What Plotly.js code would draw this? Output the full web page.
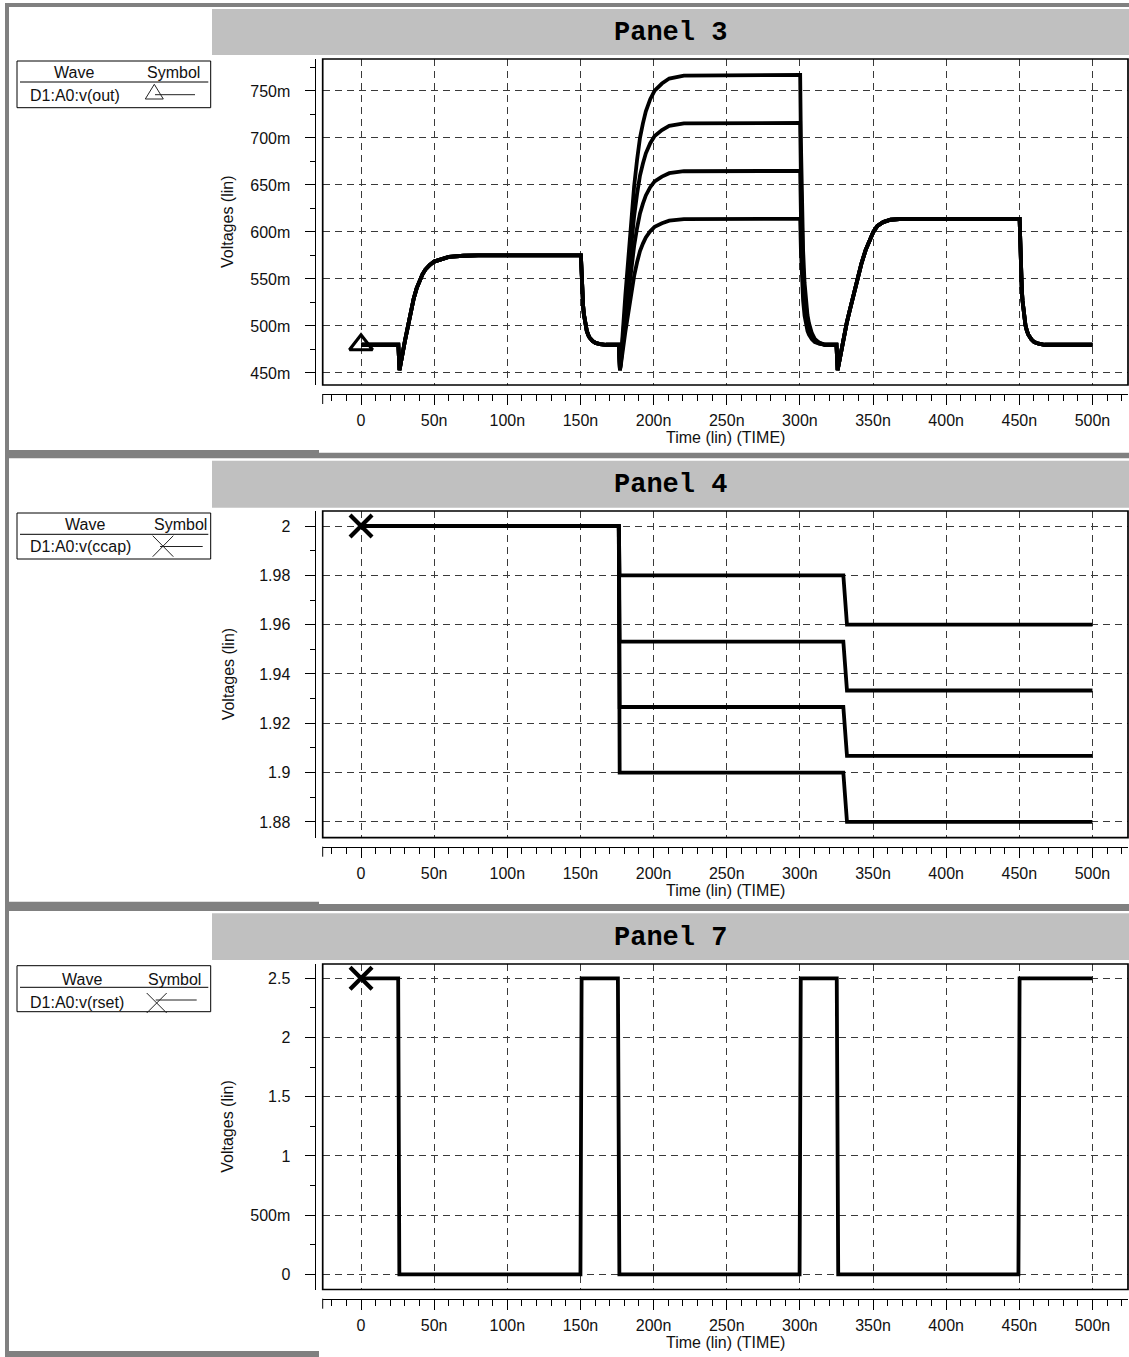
<!DOCTYPE html>
<html>
<head>
<meta charset="utf-8">
<script src="https://cdn.plot.ly/plotly-3.0.1.min.js"></script>
<style>html,body{margin:0;padding:0;background:#fff;}</style>
</head>
<body>
<div id="chart" style="width:1129px;height:1357px;"></div>
<script>
// ---------- time axis (ns) ----------
const timeTicks = [0, 50, 100, 150, 200, 250, 300, 350, 400, 450, 500];
const timeTickText = ['0', '50n', '100n', '150n', '200n', '250n', '300n', '350n', '400n', '450n', '500n'];

// ---------- Panel 3 : D1:A0:v(out), four sweep runs (mV) ----------
const outTime = [0, 25.5, 26.3, 27, 28, 30, 32, 34, 36, 38, 40, 42, 44, 47, 50, 55, 60, 70, 80,
  150.3, 150.8, 151.3, 151.8, 152.3, 153.3, 154.3, 155.3, 156.3, 158.3, 160.3, 163.3, 167.3,
  176.2, 177.0,
  177.7, 178.7, 180.7, 182.7, 184.7, 186.7, 188.7, 190.7, 192.7, 194.7, 197.7, 200.7, 205.7, 210.7, 220.7,
  300.2, 300.7, 301.2, 301.7, 302.2, 303.2, 304.2, 305.2, 306.2, 308.2, 310.2, 313.2, 317.2,
  325.0, 325.8,
  326.5, 328, 330, 332, 334, 336, 339, 342, 345, 348, 350.2, 353, 357, 362, 370,
  450.2, 450.7, 451.2, 451.7, 452.2, 453.2, 454.2, 455.2, 456.2, 458.2, 460.2, 463.2, 467.2,
  500];
// shared by all runs: first pulse and the dip before the second pulse
const outHead = [480, 480, 453, 458, 468, 484, 499, 515, 529, 540, 549, 555, 560, 565, 568.5, 571.5, 573.5, 574.7, 575,
  575, 551, 534, 522, 513, 502, 495, 490.5, 487.5, 484, 482, 480.8, 480,
  480, 453];
// second pulse rise, per run
const outRiseA = [459.6, 472.8, 493.9, 513.7, 534.8, 553.3, 567.8, 579.7, 587.6, 594.2, 600.8, 605.5, 609.3, 612.1, 613.7];
const outRiseB = [461.7, 479.1, 506.8, 532.9, 560.7, 585.1, 604.2, 619.8, 630.2, 638.9, 647.6, 653.8, 658.9, 662.5, 664.6];
const outRiseC = [463.8, 485.3, 519.8, 552.2, 586.6, 616.8, 640.5, 660.0, 672.9, 683.7, 694.4, 702.1, 708.4, 712.8, 715.5];
const outRiseD = [465.9, 491.6, 532.8, 571.4, 612.5, 648.6, 676.9, 700.1, 715.5, 728.4, 741.3, 750.4, 757.9, 763.2, 766.4];
// second pulse fall, per run
const outFallA = [614, 580.5, 556.4, 539.0, 526.9, 510.8, 500.8, 494.7, 490.7, 485.8, 482.9, 481.1, 480];
const outFallB = [665, 618.8, 585.5, 561.4, 544.8, 522.6, 508.7, 500.4, 494.8, 488.0, 484.1, 481.5, 480];
const outFallC = [716, 657.0, 614.5, 583.8, 562.6, 534.3, 516.6, 506.0, 498.9, 490.1, 485.2, 481.9, 480];
const outFallD = [767, 695.3, 643.6, 606.3, 580.5, 546.0, 524.5, 511.6, 503.0, 492.3, 486.3, 482.3, 480];
// shared by all runs: third pulse to the end
const outTail = [480, 453,
  459, 471, 487, 503, 516, 528, 549, 566, 581, 593, 600, 606.5, 610.5, 613, 614,
  614, 580.5, 556.4, 539, 526.9, 510.8, 500.8, 494.7, 490.7, 485.8, 482.9, 481.1, 480,
  480];
const outTicks = [450, 500, 550, 600, 650, 700, 750];
const outTickText = ['450m', '500m', '550m', '600m', '650m', '700m', '750m'];

// ---------- Panel 4 : D1:A0:v(ccap), four sweep runs (V) ----------
const ccapTime = [0, 176.2, 176.8, 329.7, 332.2, 500];
const ccapRunA = [2, 2, 1.98, 1.98, 1.96, 1.96];
const ccapRunB = [2, 2, 1.9531, 1.9531, 1.9333, 1.9333];
const ccapRunC = [2, 2, 1.9266, 1.9266, 1.9068, 1.9068];
const ccapRunD = [2, 2, 1.90, 1.90, 1.88, 1.88];
const ccapTicks = [1.88, 1.9, 1.92, 1.94, 1.96, 1.98, 2];
const ccapTickText = ['1.88', '1.9', '1.92', '1.94', '1.96', '1.98', '2'];

// ---------- Panel 7 : D1:A0:v(rset) (V) ----------
const rsetTime = [0, 25.4, 26.2, 150.0, 150.8, 175.6, 176.6, 299.8, 300.6, 325.2, 326.2, 449.4, 450.2, 500];
const rsetVolts = [2.5, 2.5, 0, 0, 2.5, 2.5, 0, 0, 2.5, 2.5, 0, 0, 2.5, 2.5];
const rsetTicks = [0, 0.5, 1, 1.5, 2, 2.5];
const rsetTickText = ['0', '500m', '1', '1.5', '2', '2.5'];

// ---------- page geometry helpers (pixels -> paper) ----------
const W = 1129, H = 1357;
const PX = v => v / W;
const PY = v => 1 - v / H;
const FONT = 'Liberation Sans, Arial, Helvetica, sans-serif';
const MONO = 'Liberation Mono, Courier New, monospace';

const plotLeft = 322.7, plotRight = 1128, yAxisX = 315;
const timeRange = [-26.2, 524.3];

const panels = [
  { name: 'Panel 3', top: 59, bottom: 385, axisY: 394, barTop: 9, barBottom: 55,
    range: [437.2, 784.0], ticks: outTicks, text: outTickText, minor: 25,
    legTop: 61, legBottom: 107.7, legLine: 82, waveX: 74, symX: 173, headY: 73, nameY: 95.5,
    wave: 'D1:A0:v(out)' },
  { name: 'Panel 4', top: 511, bottom: 837.7, axisY: 846.7, barTop: 460.7, barBottom: 507.7,
    range: [1.8736, 2.0061], ticks: ccapTicks, text: ccapTickText, minor: 0.01,
    legTop: 513, legBottom: 559, legLine: 534.3, waveX: 85, symX: 180.5, headY: 524.5, nameY: 546,
    wave: 'D1:A0:v(ccap)' },
  { name: 'Panel 7', top: 964, bottom: 1289.5, axisY: 1298.7, barTop: 913.3, barBottom: 960,
    range: [-0.128, 2.621], ticks: rsetTicks, text: rsetTickText, minor: 0.25,
    legTop: 965.7, legBottom: 1011.7, legLine: 987.3, waveX: 81.5, symX: 174.5, headY: 979.5, nameY: 1002.5,
    wave: 'D1:A0:v(rset)' }
];

// ---------- traces ----------
const lineStyle = { color: '#000', width: 3.8 };
const traces = [];
const outRuns = [
  outHead.concat(outRiseA, outFallA, outTail),
  outHead.concat(outRiseB, outFallB, outTail),
  outHead.concat(outRiseC, outFallC, outTail),
  outHead.concat(outRiseD, outFallD, outTail)
];
outRuns.forEach(r => traces.push({ x: outTime, y: r, xaxis: 'x', yaxis: 'y', mode: 'lines', line: lineStyle, hoverinfo: 'skip' }));
[ccapRunA, ccapRunB, ccapRunC, ccapRunD].forEach(r =>
  traces.push({ x: ccapTime, y: r, xaxis: 'x2', yaxis: 'y2', mode: 'lines', line: lineStyle, hoverinfo: 'skip' }));
traces.push({ x: rsetTime, y: rsetVolts, xaxis: 'x3', yaxis: 'y3', mode: 'lines', line: lineStyle, hoverinfo: 'skip' });

// wave symbols at the first sample of each wave
traces.push({ x: [outTime[0]], y: [outRuns[0][0]], xaxis: 'x', yaxis: 'y', mode: 'markers',
  marker: { symbol: 'triangle-up-open', size: 20, color: '#000', line: { color: '#000', width: 3.2 } }, hoverinfo: 'skip' });
traces.push({ x: [ccapTime[0]], y: [ccapRunA[0]], xaxis: 'x2', yaxis: 'y2', mode: 'markers',
  marker: { symbol: 'x-thin-open', size: 22, color: '#000', line: { color: '#000', width: 4.2 } }, hoverinfo: 'skip' });
traces.push({ x: [rsetTime[0]], y: [rsetVolts[0]], xaxis: 'x3', yaxis: 'y3', mode: 'markers',
  marker: { symbol: 'x-thin-open', size: 22, color: '#000', line: { color: '#000', width: 4.2 } }, hoverinfo: 'skip' });

// ---------- layout ----------
const layout = {
  width: W, height: H,
  margin: { l: 0, r: 0, t: 0, b: 0, pad: 0 },
  paper_bgcolor: '#fff', plot_bgcolor: '#fff',
  showlegend: false,
  font: { family: FONT, color: '#000', size: 16 },
  shapes: [], annotations: []
};

const gray = '#808080';
const rectPx = (x0, y0, x1, y1, fill) => ({ type: 'rect', xref: 'paper', yref: 'paper', layer: 'below',
  x0: PX(x0), x1: PX(x1), y0: PY(y1), y1: PY(y0), fillcolor: fill, line: { width: 0 } });
const linePx = (x0, y0, x1, y1, w, c) => ({ type: 'line', xref: 'paper', yref: 'paper',
  x0: PX(x0), x1: PX(x1), y0: PY(y0), y1: PY(y1), line: { color: c || '#000', width: w || 1 } });

// window frame
layout.shapes.push(rectPx(5, 3, W, 7, gray));
layout.shapes.push(rectPx(5, 3, 9, H, gray));
layout.shapes.push(rectPx(5, 450, 319, 458.3, gray));
layout.shapes.push(rectPx(319, 452.7, W, 458.3, gray));
layout.shapes.push(rectPx(5, 901.7, 319, 911, gray));
layout.shapes.push(rectPx(319, 904, W, 911, gray));
layout.shapes.push(rectPx(5, 1351, 319, H, gray));

panels.forEach((p, i) => {
  const n = i === 0 ? '' : String(i + 1);
  const tickFont = { family: FONT, size: 16, color: '#111' };
  layout['xaxis' + n] = {
    domain: [PX(plotLeft), PX(plotRight)], range: timeRange,
    anchor: 'free', position: PY(p.axisY), side: 'bottom',
    tickmode: 'array', tickvals: timeTicks, ticktext: timeTickText,
    ticks: 'outside', ticklen: 10, tickwidth: 1, tickcolor: '#000',
    minor: { tickmode: 'linear', tick0: 0, dtick: 10, ticks: 'outside', ticklen: 6, tickwidth: 1, tickcolor: '#000', showgrid: false },
    showline: true, linecolor: '#000', linewidth: 1,
    showgrid: true, gridcolor: '#3a3a3a', gridwidth: 1, griddash: '7px,5px',
    zeroline: false, tickfont: tickFont, ticklabelstandoff: 2, fixedrange: true
  };
  layout['yaxis' + n] = {
    domain: [PY(p.bottom), PY(p.top)], range: p.range,
    anchor: 'free', position: PX(yAxisX), side: 'left',
    tickmode: 'array', tickvals: p.ticks, ticktext: p.text,
    ticks: 'outside', ticklen: 10.5, tickwidth: 1, tickcolor: '#000',
    minor: { tickmode: 'linear', tick0: 0, dtick: p.minor, ticks: 'outside', ticklen: 5, tickwidth: 1, tickcolor: '#000', showgrid: false },
    showline: true, linecolor: '#000', linewidth: 1,
    showgrid: true, gridcolor: '#3a3a3a', gridwidth: 1, griddash: '7px,5px',
    zeroline: false, tickfont: tickFont, ticklabelstandoff: 11, fixedrange: true
  };

  // plot frame
  layout.shapes.push({ type: 'rect', xref: 'x' + n + ' domain', yref: 'y' + n + ' domain',
    x0: 0, x1: 1, y0: 0, y1: 1, line: { color: '#000', width: 1.7 }, fillcolor: 'rgba(0,0,0,0)' });
  // start tick of the time axis
  layout.shapes.push(linePx(plotLeft, p.axisY, plotLeft, p.axisY + 10, 1));

  // panel title bar
  layout.shapes.push(rectPx(212, p.barTop, W, p.barBottom, '#c0c0c0'));
  layout.annotations.push({ xref: 'paper', yref: 'paper', x: PX((212 + W) / 2), y: PY((p.barTop + p.barBottom) / 2 + 1),
    xanchor: 'center', yanchor: 'middle', showarrow: false, text: p.name,
    font: { family: MONO, size: 27, weight: 'bold', color: '#000' } });

  // axis titles
  layout.annotations.push({ xref: 'paper', yref: 'paper', x: PX(228), y: PY((p.top + p.bottom) / 2),
    xanchor: 'center', yanchor: 'middle', showarrow: false, textangle: -90, text: 'Voltages (lin)',
    font: { family: FONT, size: 16, color: '#111' } });
  layout.annotations.push({ xref: 'paper', yref: 'paper', x: PX((plotLeft + plotRight) / 2), y: PY(p.axisY + 44),
    xanchor: 'center', yanchor: 'middle', showarrow: false, text: 'Time (lin) (TIME)',
    font: { family: FONT, size: 16, color: '#111' } });

  // wave / symbol table
  layout.shapes.push({ type: 'rect', xref: 'paper', yref: 'paper', x0: PX(17), x1: PX(210.7),
    y0: PY(p.legBottom), y1: PY(p.legTop), line: { color: '#000', width: 1 }, fillcolor: '#fff' });
  layout.shapes.push(linePx(20, p.legLine, 208.3, p.legLine, 1));
  const headFont = { family: FONT, size: 16, color: '#111' };
  layout.annotations.push({ xref: 'paper', yref: 'paper', x: PX(p.waveX), y: PY(p.headY), xanchor: 'center', yanchor: 'middle',
    showarrow: false, text: 'Wave', font: headFont });
  layout.annotations.push({ xref: 'paper', yref: 'paper', x: PX(p.symX), y: PY(p.headY), xanchor: 'center', yanchor: 'middle',
    showarrow: false, text: 'Symbol', font: headFont });
  layout.annotations.push({ xref: 'paper', yref: 'paper', x: PX(27.5), y: PY(p.nameY), xanchor: 'left', yanchor: 'middle',
    showarrow: false, text: p.wave, font: headFont });
});

// table symbols
const pathPx = pts => 'M' + pts.map(q => PX(q[0]) + ',' + PY(q[1])).join(' L');
layout.shapes.push({ type: 'path', xref: 'paper', yref: 'paper',
  path: pathPx([[145.3, 99], [163.3, 99], [154.3, 84.3]]) + ' Z', line: { color: '#222', width: 1 } });
layout.shapes.push(linePx(155, 94.7, 195, 94.7, 1, '#222'));

layout.shapes.push(linePx(152.7, 535.7, 173.3, 556.7, 1, '#222'));
layout.shapes.push(linePx(152.7, 556.7, 173.3, 535.7, 1, '#222'));
layout.shapes.push(linePx(160, 546.5, 202.7, 546.5, 1, '#222'));

layout.shapes.push(linePx(146.7, 993, 166.7, 1013, 1, '#222'));
layout.shapes.push(linePx(146.7, 1013, 166.7, 993, 1, '#222'));
layout.shapes.push(linePx(155.7, 1000, 196.7, 1000, 1, '#222'));

Plotly.newPlot('chart', traces, layout, { displayModeBar: false, staticPlot: true });
</script>
</body>
</html>
